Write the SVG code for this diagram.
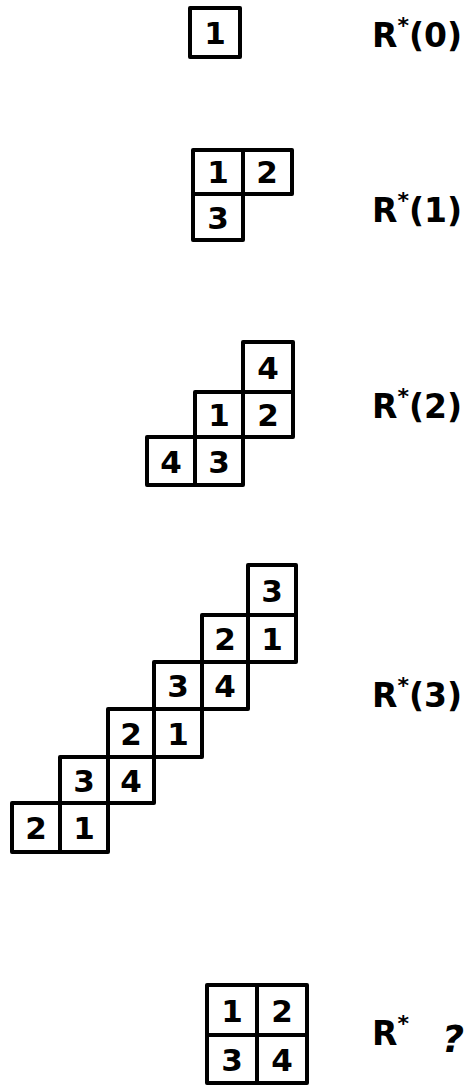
<svg xmlns="http://www.w3.org/2000/svg" width="473" height="1087" viewBox="0 0 473 1087">
<style>
.c{fill:#fff;stroke:#000;stroke-width:4;stroke-linejoin:round}
.d{font-family:"DejaVu Sans","Liberation Sans",sans-serif;font-weight:bold;font-size:31px;text-anchor:middle;fill:#000}
.l{font-family:"DejaVu Sans","Liberation Sans",sans-serif;font-weight:bold;font-size:33px;fill:#000}
.s{font-size:22px}
</style>
<rect width="473" height="1087" fill="#fff"/>
<g id="r0">
<rect class="c" x="190" y="8" width="50" height="49"/>
<text class="d" x="215" y="44">1</text>
</g>
<g id="r0-label"><text class="l" x="372" y="47">R<tspan class="s" dy="-14">*</tspan><tspan dy="14">(0)</tspan></text></g>
<g id="r1">
<rect class="c" x="193" y="150" width="50" height="44"/>
<rect class="c" x="243" y="150" width="49" height="44"/>
<rect class="c" x="193" y="194" width="50" height="46"/>
<text class="d" x="218" y="183">1</text>
<text class="d" x="267" y="183">2</text>
<text class="d" x="218" y="229">3</text>
</g>
<g id="r1-label"><text class="l" x="372" y="222">R<tspan class="s" dy="-14">*</tspan><tspan dy="14">(1)</tspan></text></g>
<g id="r2">
<rect class="c" x="243" y="342" width="50" height="50"/>
<rect class="c" x="195" y="392" width="48" height="45"/>
<rect class="c" x="243" y="392" width="50" height="45"/>
<rect class="c" x="147" y="437" width="48" height="48"/>
<rect class="c" x="195" y="437" width="48" height="48"/>
<text class="d" x="268" y="379">4</text>
<text class="d" x="219" y="426">1</text>
<text class="d" x="268" y="426">2</text>
<text class="d" x="171" y="473">4</text>
<text class="d" x="219" y="473">3</text>
</g>
<g id="r2-label"><text class="l" x="372" y="418">R<tspan class="s" dy="-14">*</tspan><tspan dy="14">(2)</tspan></text></g>
<g id="r3">
<rect class="c" x="248" y="565" width="48" height="50"/>
<rect class="c" x="202" y="615" width="46" height="47"/>
<rect class="c" x="248" y="615" width="48" height="47"/>
<rect class="c" x="154" y="662" width="48" height="47"/>
<rect class="c" x="202" y="662" width="46" height="47"/>
<rect class="c" x="108" y="709" width="46" height="48"/>
<rect class="c" x="154" y="709" width="48" height="48"/>
<rect class="c" x="60" y="757" width="48" height="46"/>
<rect class="c" x="108" y="757" width="46" height="46"/>
<rect class="c" x="12" y="803" width="48" height="49"/>
<rect class="c" x="60" y="803" width="48" height="49"/>
<text class="d" x="272" y="602">3</text>
<text class="d" x="225" y="650">2</text>
<text class="d" x="272" y="650">1</text>
<text class="d" x="178" y="697">3</text>
<text class="d" x="225" y="697">4</text>
<text class="d" x="131" y="745">2</text>
<text class="d" x="178" y="745">1</text>
<text class="d" x="84" y="792">3</text>
<text class="d" x="131" y="792">4</text>
<text class="d" x="36" y="839">2</text>
<text class="d" x="84" y="839">1</text>
</g>
<g id="r3-label"><text class="l" x="372" y="707">R<tspan class="s" dy="-14">*</tspan><tspan dy="14">(3)</tspan></text></g>
<g id="rq">
<rect class="c" x="207" y="985" width="50" height="50"/>
<rect class="c" x="257" y="985" width="50" height="50"/>
<rect class="c" x="207" y="1035" width="50" height="48"/>
<rect class="c" x="257" y="1035" width="50" height="48"/>
<text class="d" x="232" y="1022">1</text>
<text class="d" x="282" y="1022">2</text>
<text class="d" x="232" y="1071">3</text>
<text class="d" x="282" y="1071">4</text>
</g>
<g id="rq-label"><text class="l" x="372" y="1045">R<tspan class="s" dy="-14">*</tspan><tspan x="442" dy="21" font-size="38" font-style="italic">?</tspan></text></g>
</svg>
